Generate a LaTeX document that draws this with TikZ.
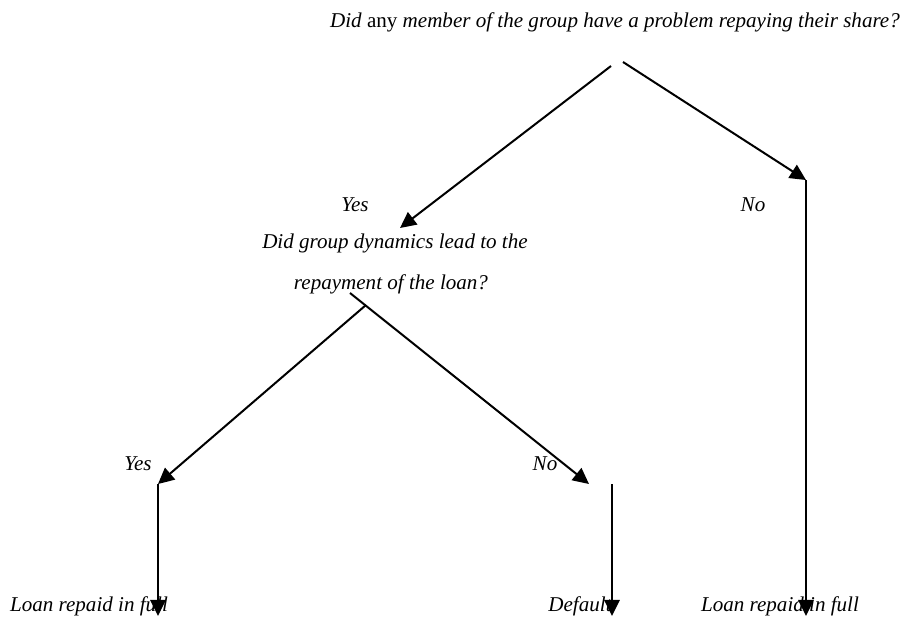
\documentclass[tikz,border=0pt]{standalone}
\usepackage{fontspec}
\setmainfont{Liberation Serif}
\usetikzlibrary{arrows.meta,positioning}
\tikzset{
  texto/.style={
    inner sep=0pt,
    font=\fontsize{15.8}{18}\selectfont\itshape
  },
  arrow/.style={
    -{Triangle[length=12pt,width=11.5pt]},
    line width=1.5pt
  }
}
\begin{document}
\begin{tikzpicture}[x=0.75pt,y=-0.75pt]
\useasboundingbox (0,0) rectangle (903,619);
% preguntas
\node[texto] (p1) at (615,22) {Did {\upshape any} member of the group have a problem repaying their share?};
\node[texto] (p2a) at (395,243) {Did group dynamics lead to the};
\node[texto,below=16pt of p2a,xshift=-3pt] (p2b) {repayment of the loan?};
% respuestas
\node[texto] (s1) at (355,205) {Yes};
\node[texto] (n1) at (753,205) {No};
\node[texto] (s2) at (138,464) {Yes};
\node[texto] (n2) at (545,464) {No};
% hojas
\node[texto] (h1) at (89,606) {Loan repaid in full};
\node[texto] (h2) at (580,606) {Default};
\node[texto] (h3) at (780,606) {Loan repaid in full};
% puntos
\coordinate (a1) at (611,66);
\coordinate (a2) at (623,62);
\coordinate (b1) at (400,228);
\coordinate (b2) at (806,180);
\coordinate (c1) at (366,305);
\coordinate (c2) at (350,293);
\coordinate (d1) at (158,484);
\coordinate (d2) at (589,484);
\coordinate (e2) at (612,484);
% flechas
\draw[arrow] (a1) -- (b1);
\draw[arrow] (a2) -- (b2);
\draw[arrow] (b2) -- (b2 |- h3.south);
\draw[arrow] (c1) -- (d1);
\draw[arrow] (c2) -- (d2);
\draw[arrow] (d1) -- (d1 |- h1.south);
\draw[arrow] (e2) -- (e2 |- h2.south);
\end{tikzpicture}
\end{document}
